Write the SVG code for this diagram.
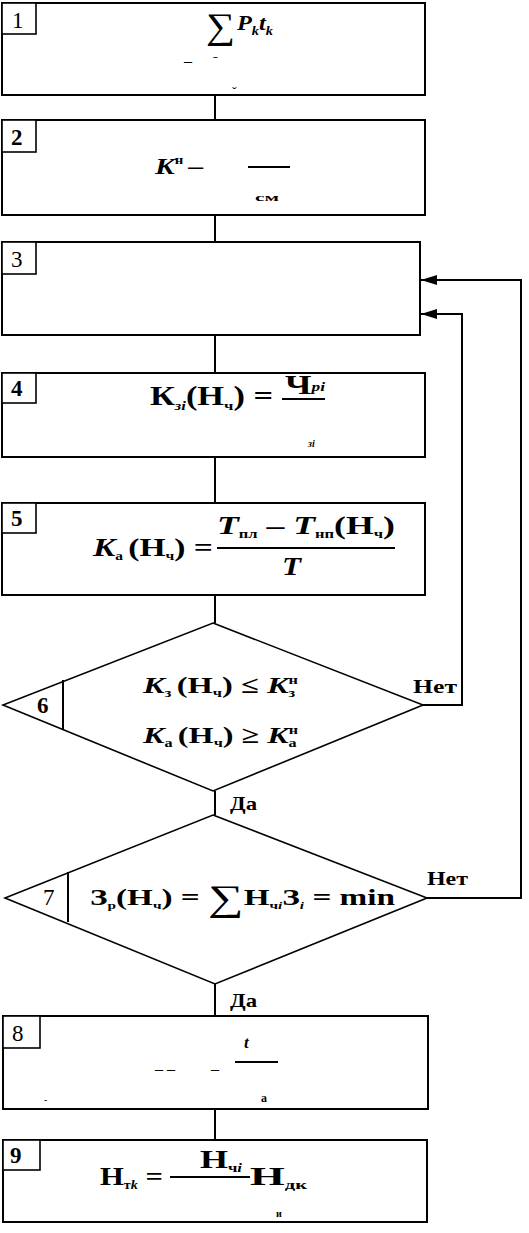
<svg xmlns="http://www.w3.org/2000/svg" width="529" height="1233" viewBox="0 0 529 1233">
<style>
.box{fill:#fff;stroke:#000;stroke-width:2}
.num{fill:#fff;stroke:#000;stroke-width:1.6}
.dia{fill:#fff;stroke:#000;stroke-width:1.6}
.ln{fill:none;stroke:#000;stroke-width:2}
.t{font-family:"Liberation Serif",serif;fill:#000}
.b{font-weight:bold}
.i{font-style:italic}
.n{font-family:"Liberation Serif",serif;font-size:23px;fill:#000}
</style>
<defs>
<marker id="ah" viewBox="0 0 16 10" refX="16" refY="5" markerWidth="16" markerHeight="10" markerUnits="userSpaceOnUse" orient="auto">
<path d="M0,0 L16,5 L0,10 Z" fill="#000"/>
</marker>
<clipPath id="c4"><rect x="280" y="400" width="30" height="6"/></clipPath>
</defs>
<g id="connectors">
<path class="ln" d="M215,95 V120 M215,215 V242 M215,335 V373 M215,457 V503 M215,595 V623 M215,791 V815 M215,984 V1016 M215,1109 V1140"/>
<path class="ln" d="M423,705 H462 V314 H421" marker-end="url(#ah)"/>
<path class="ln" d="M427,898 H521 V280 H421" marker-end="url(#ah)"/>
<text class="t b" x="413" y="693" font-size="19" textLength="44" lengthAdjust="spacingAndGlyphs">Нет</text>
<text class="t b" x="427" y="885" font-size="19" textLength="41" lengthAdjust="spacingAndGlyphs">Нет</text>
<text class="t b" x="230" y="810" font-size="19" textLength="27" lengthAdjust="spacingAndGlyphs">Да</text>
<text class="t b" x="230" y="1007" font-size="19" textLength="27" lengthAdjust="spacingAndGlyphs">Да</text>
</g>
<g id="node1">
<rect class="box" x="2" y="3" width="423" height="92"/>
<rect class="num" x="2" y="3" width="34" height="31"/>
<text class="n" x="12" y="28">1</text>
<text class="t" x="206" y="38" font-size="36" textLength="29" lengthAdjust="spacingAndGlyphs">∑</text>
<text class="t b i" x="237" y="30" font-size="22" textLength="36" lengthAdjust="spacingAndGlyphs">P<tspan font-size="13" dy="5">k</tspan><tspan dy="-5">t</tspan><tspan font-size="13" dy="5">k</tspan></text>
<text class="t" x="184" y="66" font-size="16">–</text>
<text class="t" x="213" y="66" font-size="14">ˉ</text>
<text class="t" x="232" y="97" font-size="14">ˇ</text>
</g>
<g id="node2">
<rect class="box" x="2" y="120" width="423" height="95"/>
<rect class="num" x="2" y="120" width="34" height="32"/>
<text class="n b" x="11" y="145">2</text>
<text class="t b i" x="155" y="174" font-size="24" textLength="48" lengthAdjust="spacingAndGlyphs">K<tspan font-style="normal" font-size="12" dy="-10">н</tspan><tspan font-style="normal" dy="10" dx="4">–</tspan></text>
<line class="ln" x1="248" y1="167" x2="290" y2="167" stroke-width="1.5"/>
<text class="t b" x="255" y="201" font-size="10" textLength="24" lengthAdjust="spacingAndGlyphs">см</text>
</g>
<g id="node3">
<rect class="box" x="2" y="242" width="418" height="93"/>
<rect class="num" x="2" y="242" width="34" height="32"/>
<text class="n" x="11" y="267">3</text>
</g>
<g id="node4">
<rect class="box" x="2" y="373" width="423" height="84"/>
<rect class="num" x="2" y="373" width="34" height="30"/>
<text class="n b" x="11" y="396">4</text>
<text class="t b" x="150" y="405" font-size="27" textLength="123" lengthAdjust="spacingAndGlyphs">К<tspan font-size="13" font-style="italic" dy="5">зi</tspan><tspan dy="-5">(Н</tspan><tspan font-size="13" dy="5">ч</tspan><tspan dy="-5">) =</tspan></text>
<text class="t b" x="285" y="394" font-size="27" textLength="40" lengthAdjust="spacingAndGlyphs">Ч<tspan font-size="13" font-style="italic" dy="-3">pi</tspan></text>
<line class="ln" x1="282" y1="399" x2="325" y2="399" stroke-width="1.6"/>
<text class="t b" x="281" y="420" font-size="22" clip-path="url(#c4)">НН</text>
<text class="t b i" x="308" y="447" font-size="10">зi</text>
</g>
<g id="node5">
<rect class="box" x="2" y="503" width="423" height="92"/>
<rect class="num" x="2" y="503" width="34" height="30"/>
<text class="n b" x="11" y="526">5</text>
<text class="t b i" x="93" y="556" font-size="26" textLength="120" lengthAdjust="spacingAndGlyphs">K<tspan font-style="normal" font-size="12" dy="4">а</tspan><tspan font-style="normal" dy="-4" dx="4">(Н</tspan><tspan font-style="normal" font-size="12" dy="4">ч</tspan><tspan font-style="normal" dy="-4">) =</tspan></text>
<text class="t b i" x="217" y="534" font-size="26" textLength="178" lengthAdjust="spacingAndGlyphs">T<tspan font-style="normal" font-size="12" dy="4">пл</tspan><tspan font-style="normal" dy="-4"> – </tspan>T<tspan font-style="normal" font-size="12" dy="4">нп</tspan><tspan font-style="normal" dy="-4">(Н</tspan><tspan font-style="normal" font-size="12" dy="4">ч</tspan><tspan font-style="normal" dy="-4">)</tspan></text>
<line class="ln" x1="217" y1="548" x2="395" y2="548" stroke-width="1.6"/>
<text class="t b i" x="282" y="575" font-size="26" textLength="19" lengthAdjust="spacingAndGlyphs">T</text>
</g>
<g id="node6">
<polygon class="dia" points="213,623 423,705 213,791 3,705"/>
<line class="ln" x1="63" y1="680" x2="63" y2="730" stroke-width="1.6"/>
<text class="n b" x="37" y="713">6</text>
<text class="t b i" x="143" y="693" font-size="24" textLength="155" lengthAdjust="spacingAndGlyphs">K<tspan font-style="normal" font-size="12" dy="4">з</tspan><tspan font-style="normal" dy="-4" dx="4">(Н</tspan><tspan font-style="normal" font-size="12" dy="4">ч</tspan><tspan font-style="normal" dy="-4">) ≤ </tspan>K<tspan font-style="normal" font-size="12" dy="-9">н</tspan><tspan font-style="normal" font-size="12" dy="13" dx="-7">з</tspan></text>
<text class="t b i" x="143" y="743" font-size="24" textLength="155" lengthAdjust="spacingAndGlyphs">K<tspan font-style="normal" font-size="12" dy="4">а</tspan><tspan font-style="normal" dy="-4" dx="4">(Н</tspan><tspan font-style="normal" font-size="12" dy="4">ч</tspan><tspan font-style="normal" dy="-4">) ≥ </tspan>K<tspan font-style="normal" font-size="12" dy="-9">н</tspan><tspan font-style="normal" font-size="12" dy="13" dx="-7">а</tspan></text>
</g>
<g id="node7">
<polygon class="dia" points="213,815 427,898 215,984 5,898"/>
<line class="ln" x1="68" y1="872" x2="68" y2="922" stroke-width="1.6"/>
<text class="n" x="43" y="905">7</text>
<text class="t b" x="90" y="905" font-size="24" textLength="305" lengthAdjust="spacingAndGlyphs">З<tspan font-size="11" dy="4">р</tspan><tspan dy="-4">(Н</tspan><tspan font-size="11" dy="4">ч</tspan><tspan dy="-4">) = </tspan><tspan font-size="36" font-weight="normal" dy="5">∑</tspan><tspan dy="-5">Н</tspan><tspan font-size="11" dy="4">ч<tspan font-style="italic">i</tspan></tspan><tspan dy="-4">З</tspan><tspan font-size="11" font-style="italic" dy="4">i</tspan><tspan dy="-4"> = min</tspan></text>
</g>
<g id="node8">
<rect class="box" x="3" y="1016" width="425" height="93"/>
<rect class="num" x="3" y="1016" width="37" height="32"/>
<text class="n" x="12" y="1041">8</text>
<text class="t" x="155" y="1074" font-size="16">– –</text>
<text class="t" x="211" y="1074" font-size="16">–</text>
<text class="t b i" x="244" y="1048" font-size="17">t</text>
<line class="ln" x1="235" y1="1062" x2="278" y2="1062" stroke-width="1.6"/>
<text class="t b" x="261" y="1102" font-size="12">а</text>
<text class="t" x="44" y="1103" font-size="10">-</text>
</g>
<g id="node9">
<rect class="box" x="3" y="1140" width="424" height="82"/>
<rect class="num" x="3" y="1140" width="37" height="30"/>
<text class="n b" x="10" y="1163">9</text>
<text class="t b" x="100" y="1185" font-size="26" textLength="63" lengthAdjust="spacingAndGlyphs">Н<tspan font-size="12" dy="4">т<tspan font-style="italic">k</tspan></tspan><tspan dy="-4"> =</tspan></text>
<text class="t b" x="200" y="1168" font-size="26" textLength="42" lengthAdjust="spacingAndGlyphs">Н<tspan font-size="12" dy="4">ч<tspan font-style="italic">i</tspan></tspan></text>
<line class="ln" x1="170" y1="1177" x2="250" y2="1177" stroke-width="1.6"/>
<text class="t b" x="250" y="1185" font-size="26" textLength="57" lengthAdjust="spacingAndGlyphs">Н<tspan font-size="12" dy="4">дк</tspan></text>
<text class="t b" x="276" y="1217" font-size="10">и</text>
</g>
</svg>
